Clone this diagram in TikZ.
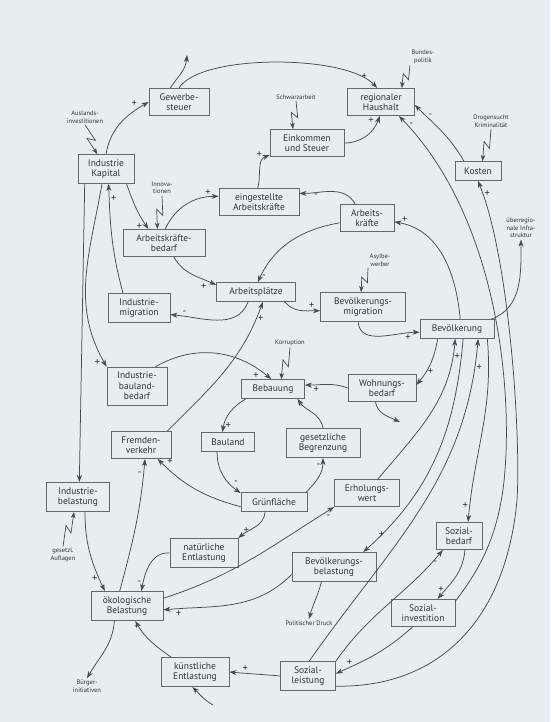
\documentclass[tikz,border=0pt]{standalone}
\usepackage{fontspec}
\setmainfont{PT Sans}
\usetikzlibrary{arrows.meta,calc}
\definecolor{papier}{RGB}{232,237,239}
\definecolor{linie}{RGB}{72,76,80}
\definecolor{rahmen}{RGB}{100,105,108}
\definecolor{schrift}{RGB}{48,52,56}
\tikzset{box/.style={draw=rahmen,line width=.7pt,fill=papier,align=center,inner xsep=3pt,inner ysep=5pt,
   minimum height=19pt,text=schrift,font=\fontsize{9.5}{10.5}\selectfont},
 wirkung/.style={-{Stealth[length=7pt,width=5pt,inset=2pt]},line width=.75pt,draw=linie},
 impuls/.style={-{Stealth[length=6pt,width=4.5pt,inset=1.5pt]},line width=.7pt,draw=linie},
 extern/.style={inner sep=1.5pt,align=center,text=schrift,font=\fontsize{6.5}{7.5}\selectfont},
 vz/.style={inner sep=1.5pt,text=schrift,font=\fontsize{10.5}{10.5}\selectfont}}
\newcommand{\blitz}[2]{\draw[impuls] (#1) -- ($(#1)!0.58!(#2)!3.5pt!90:(#2)$)
  -- ($(#1)!0.42!(#2)!3.5pt!-90:(#2)$) -- (#2);}

\begin{document}
\begin{tikzpicture}[x=1pt,y=1pt]
\useasboundingbox (0,0) rectangle (550,722);
\fill[papier] (0,0) rectangle (550,722);
% Kaesten
\node[box,minimum width=60pt] (gewst) at (179,620) {Gewerbe-\\steuer};
\node[box,minimum width=67pt] (haushalt) at (381,620) {regionaler\\Haushalt};
\node[box,minimum width=74pt] (eink) at (307,579) {Einkommen\\und Steuer};
\node[box,minimum width=56pt] (kapital) at (106,553) {Industrie\\Kapital};
\node[box,minimum width=46pt] (kosten) at (478,551) {Kosten};
\node[box,minimum width=80pt] (eingest) at (259,520) {eingestellte\\Arbeitskräfte};
\node[box,minimum width=54pt] (akraefte) at (367,504) {Arbeits-\\kräfte};
\node[box,minimum width=82pt] (akbedarf) at (164,479) {Arbeitskräfte-\\bedarf};
\node[box,minimum width=79pt] (aplaetze) at (256,430) {Arbeitsplätze};
\node[box,minimum width=62pt] (imigr) at (139,414) {Industrie-\\migration};
\node[box,minimum width=85pt] (bmigr) at (363,415) {Bevölkerungs-\\migration};
\node[box,minimum width=74pt] (bevoelk) at (457,393) {Bevölkerung};
\node[box,minimum width=60pt] (ibbedarf) at (137,336) {Industrie-\\bauland-\\bedarf};
\node[box,minimum width=63pt] (bebauung) at (273,333) {Bebauung};
\node[box,minimum width=68pt] (wbedarf) at (382,334) {Wohnungs-\\bedarf};
\node[box,minimum width=53pt] (bauland) at (228,280) {Bauland};
\node[box,minimum width=74pt] (gesbegr) at (323,279) {gesetzliche\\Begrenzung};
\node[box,minimum width=60pt] (fremdv) at (141,277) {Fremden-\\verkehr};
\node[box,minimum width=66pt] (gruen) at (274,220) {Grünfläche};
\node[box,minimum width=65pt] (erhol) at (367,229) {Erholungs-\\wert};
\node[box,minimum width=63pt] (ibelast) at (78,225) {Industrie-\\belastung};
\node[box,minimum width=68pt] (natentl) at (204,169) {natürliche\\Entlastung};
\node[box,minimum width=46pt] (sbedarf) at (459,186) {Sozial-\\bedarf};
\node[box,minimum width=84pt] (bbelast) at (334,155) {Bevölkerungs-\\belastung};
\node[box,minimum width=72pt] (oekbel) at (127,116) {ökologische\\Belastung};
\node[box,minimum width=64pt] (sinvest) at (423,109) {Sozial-\\investition};
\node[box,minimum width=68pt] (kuentl) at (195,50) {künstliche\\Entlastung};
\node[box,minimum width=55pt] (sleist) at (308,46) {Sozial-\\leistung};
% Einfluesse von aussen
\node[extern] (ausland) at (85,605) {Auslands-\\investitionen};
\node[extern] (bundes) at (423,665) {Bundes-\\politik};
\node[extern] (schwarz) at (296,625) {Schwarzarbeit};
\node[extern] (drogen) at (491,601) {Drogensucht\\Kriminalität};
\node[extern] (innov) at (162,534) {Innova-\\tionen};
\node[extern] (asyl) at (380,462) {Asylbe-\\werber};
\node[extern] (korrupt) at (290,379) {Korruption};
\node[extern] (auflagen) at (63,167) {gesetzl.\\Auflagen};
\node[extern] (infra) at (521,494) {überregio-\\nale Infra-\\struktur};
\node[extern] (druck) at (309,99) {Politischer Druck};
\node[extern] (buerger) at (87,36) {Bürger-\\initiativen};
\coordinate (gewoben) at (187,667);
\coordinate (wbaus) at (400,300);
\coordinate (kuein) at (213,17);
\blitz{ausland.south}{kapital.120}
\blitz{bundes.south west}{haushalt.34}
\blitz{schwarz.south}{eink.135}
\blitz{drogen.south}{kosten.65}
\blitz{innov.south}{akbedarf.115}
\blitz{asyl.south west}{bmigr.97}
\blitz{korrupt.south}{bebauung.50}
\blitz{auflagen.north}{ibelast.-105}
% Steuern und Haushalt
\draw[wirkung] (kapital.north) to[out=80,in=210] node[vz,pos=.85,above left]{+} (gewst.west);
\draw[wirkung] (gewst.122) to[out=55,in=-95] (gewoben);
\draw[wirkung] (gewst.north) .. controls (200,668) and (345,668) .. (haushalt.105)
  node[vz,pos=.93,above left]{+};
\draw[wirkung] (eink.east) to[out=0,in=-110] node[vz,pos=.8,above left]{+} (haushalt.265);
\draw[wirkung] (kosten.145) to[out=120,in=-45] node[vz,pos=.8,right]{-} (haushalt.-5);
\draw[wirkung] (sinvest.20) .. controls (475,147) and (500,182) .. (505,252)
  .. controls (512,342) and (495,507) .. (haushalt.-38) node[vz,pos=.97,right]{-};
\draw[wirkung] (sleist.-20) .. controls (430,34) and (505,92) .. (517,222)
  .. controls (521,282) and (510,462) .. (kosten.south) node[vz,pos=.95,right]{+};
% Arbeit
\draw[wirkung] (eingest.95) to[out=75,in=200] node[vz,pos=.8,above left]{+} (eink.198);
\draw[wirkung] (akbedarf.85) to[out=65,in=180] node[vz,pos=.85,above]{+} (eingest.172);
\draw[wirkung] (akraefte.130) to[out=120,in=0] node[vz,pos=.75,below]{-} (eingest.12);
\draw[wirkung] (akraefte.190) to[out=190,in=65] node[vz,pos=.95,right]{-} (aplaetze.80);
\draw[wirkung] (akbedarf.-55) to[out=-60,in=155] node[vz,pos=.85,below left]{+} (aplaetze.170);
\draw[wirkung] (kapital.-36) to[out=-70,in=125] node[vz,pos=.85,below left]{+} (akbedarf.138);
\draw[wirkung] (imigr.137) to[out=105,in=-88] node[vz,pos=.88,right]{+} (kapital.-80);
\draw[wirkung] (aplaetze.-129) to[out=-110,in=-5] node[vz,pos=.85,above]{-} (imigr.-12);
\draw[wirkung] (aplaetze.-19) to[out=-50,in=180] node[vz,pos=.8,above]{+} (bmigr.185);
\draw[wirkung] (bmigr.-108) to[out=-85,in=180] node[vz,pos=.85,below]{+} (bevoelk.185);
\draw[wirkung] (bevoelk.72) to[out=95,in=-10] node[vz,pos=.92,above]{+} (akraefte.-8);
% Bevoelkerung
\draw[wirkung] (bevoelk.16) to[out=20,in=-90] (infra.south);
\draw[wirkung] (bevoelk.-153) to[out=-100,in=50] node[vz,pos=.7,right]{+} (wbedarf.5);
\draw[wirkung] (wbedarf.-115) to[out=-80,in=155] (wbaus);
\draw[wirkung] (wbedarf.west) to[out=160,in=0] node[vz,pos=.75,below]{+} (bebauung.7);
\draw[wirkung] (bevoelk.-18) to[out=-85,in=85] node[vz,pos=.92,left]{+} (sbedarf.57);
\draw[wirkung] (bevoelk.-58) to[out=-95,in=42] node[vz,pos=.93,above right]{+} (bbelast.27);
\draw[wirkung] (erhol.52) to[out=50,in=-95] node[vz,pos=.9,right]{+} (bevoelk.-100);
\draw[wirkung] (sleist.85) to[out=55,in=-95] node[vz,pos=.93,right]{+} (bevoelk.-25);
% Bebauung und Flaeche
\draw[wirkung] (ibbedarf.46) to[out=30,in=140] node[vz,pos=.9,below left]{+} (bebauung.100);
\draw[wirkung] (bebauung.200) to[out=210,in=80] node[vz,pos=.85,right]{+} (bauland.120);
\draw[wirkung] (bauland.-138) to[out=-90,in=145] node[vz,pos=.8,above right]{-} (gruen.165);
\draw[wirkung] (gruen.17) to[out=45,in=-90] node[vz,pos=.8,left]{-} (gesbegr.south);
\draw[wirkung] (gesbegr.north) to[out=100,in=-55] node[vz,pos=.75,left]{-} (bebauung.-22);
\draw[wirkung] (gruen.188) to[out=165,in=-45] node[vz,pos=.9,above right]{+} (fremdv.-40);
\draw[wirkung] (fremdv.28) to[out=45,in=-110] node[vz,pos=.9,right]{+} (aplaetze.-55);
\draw[wirkung] (gruen.-132) to[out=-95,in=40] node[vz,pos=.9,above right]{+} (natentl.north east);
% Belastung
\draw[wirkung] (kapital.-145) -- (ibelast.85);
\draw[wirkung] (kapital.-105) to[out=-100,in=120] node[vz,pos=.95,below left]{+} (ibbedarf.north west);
\draw[wirkung] (ibelast.-65) to[out=-90,in=115] node[vz,pos=.85,left]{+} (oekbel.146);
\draw[wirkung] (oekbel.116) to[out=75,in=-95] node[vz,pos=.9,left]{-} (fremdv.-74);
\draw[wirkung] (natentl.west) to[out=175,in=80] node[vz,pos=.85,left]{-} (oekbel.46);
\draw[wirkung] (oekbel.12) to[out=18,in=212] node[vz,pos=.95,below right]{-} (erhol.south west);
\draw[wirkung] (bbelast.190) to[out=225,in=5] node[vz,pos=.9,below]{+} (oekbel.-6);
\draw[wirkung] (kuentl.148) to[out=145,in=-60] node[vz,pos=.85,left]{-} (oekbel.-61);
\draw[wirkung] (oekbel.-130) to[out=-95,in=60] (buerger.north);
\draw[wirkung] (bbelast.-130) to[out=-105,in=75] (druck.north);
% Sozialbereich
\draw[wirkung] (sleist.west) to[out=175,in=-5] node[vz,pos=.7,above]{+} (kuentl.east);
\draw[wirkung] (kuein) to[out=150,in=-45] (kuentl.-100);
\draw[wirkung] (sinvest.-127) to[out=222,in=24] node[vz,pos=.85,above]{+} (sleist.5);
\draw[wirkung] (sbedarf.-67) to[out=-95,in=50] node[vz,pos=.8,left]{+} (sinvest.44);
\draw[wirkung] (sleist.28) to[out=55,in=230] node[vz,pos=.9,right]{-} (sbedarf.-139);
\end{tikzpicture}
\end{document}
